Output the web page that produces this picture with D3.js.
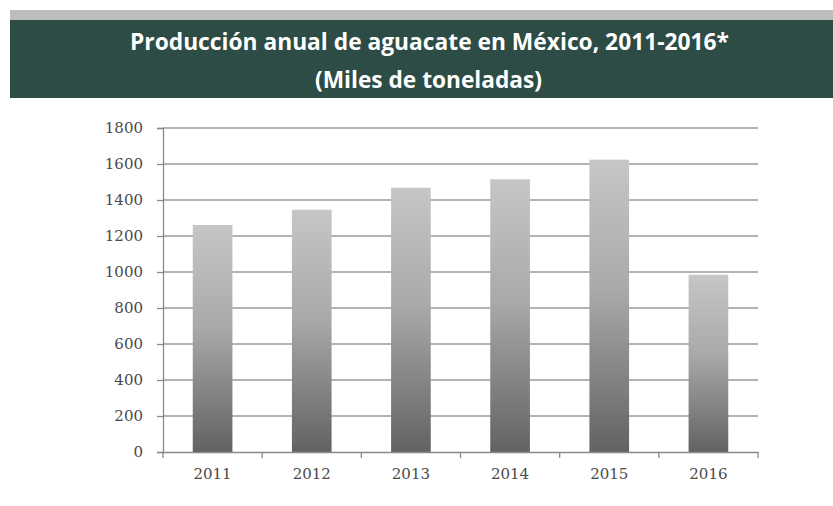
<!DOCTYPE html>
<html>
<head>
<meta charset="utf-8">
<script src="https://cdn.jsdelivr.net/npm/d3@7"></script>
<style>
  html, body { margin: 0; padding: 0; background: #ffffff; }
  svg { display: block; }
</style>
</head>
<body>
<script>
const titleLine1 = "Producción anual de aguacate en México, 2011-2016";
const titleMark = "*";
const titleLine2 = "(Miles de toneladas)";
const years = ["2011", "2012", "2013", "2014", "2015", "2016"];
const production = [1261, 1346, 1468, 1515, 1624, 985];
const yTicks = [0, 200, 400, 600, 800, 1000, 1200, 1400, 1600, 1800];

const W = 833, H = 506;
const svg = d3.select("body").append("svg").attr("width", W).attr("height", H);

const defs = svg.append("defs");
const grad = defs.append("linearGradient").attr("id", "barGrad")
  .attr("x1", 0).attr("y1", 0).attr("x2", 0).attr("y2", 1);
grad.append("stop").attr("offset", "0%").attr("stop-color", "#c6c6c6");
grad.append("stop").attr("offset", "45%").attr("stop-color", "#a9a9a9");
grad.append("stop").attr("offset", "100%").attr("stop-color", "#626262");
const blur = defs.append("filter").attr("id", "soft").attr("x", "-10%").attr("y", "-10%").attr("width", "120%").attr("height", "120%");
blur.append("feGaussianBlur").attr("stdDeviation", 0.7);

// Header
svg.append("rect").attr("x", 10).attr("y", 10).attr("width", W - 10).attr("height", 10).attr("fill", "#bdbdbd");
svg.append("rect").attr("x", 10).attr("y", 20).attr("width", W - 10).attr("height", 78).attr("fill", "#2d4c45");

svg.append("text").attr("x", 130).attr("y", 50)
  .attr("font-family", "Open Sans, sans-serif").attr("font-weight", "bold").attr("font-size", 23)
  .attr("fill", "#ffffff").attr("textLength", 599).attr("lengthAdjust", "spacingAndGlyphs")
  .text(titleLine1 + titleMark);

svg.append("text").attr("x", 315).attr("y", 88)
  .attr("font-family", "Open Sans, sans-serif").attr("font-weight", "bold").attr("font-size", 23)
  .attr("fill", "#ffffff").attr("textLength", 227).attr("lengthAdjust", "spacingAndGlyphs")
  .text(titleLine2);

// Chart
const x0 = 163, x1 = 758, yBottom = 452, yTop = 128;
const x = d3.scaleBand().domain(years).range([x0, x1]).paddingInner(0.6).paddingOuter(0.3);
const y = d3.scaleLinear().domain([0, 1800]).range([yBottom, yTop]);

const g = svg.append("g");

// gridlines
g.selectAll("line.grid").data(yTicks.filter(d => d > 0)).join("line")
  .attr("class", "grid")
  .attr("x1", x0).attr("x2", x1)
  .attr("y1", d => y(d)).attr("y2", d => y(d))
  .attr("stroke", "#9a9a9a").attr("stroke-width", 1.3);

// bars
g.selectAll("rect.bar").data(production).join("rect")
  .attr("class", "bar")
  .attr("x", (d, i) => x(years[i]))
  .attr("y", d => y(d))
  .attr("width", x.bandwidth())
  .attr("height", d => y(0) - y(d))
  .attr("fill", "url(#barGrad)")
  .attr("filter", "url(#soft)");

// Y axis
const yAxis = d3.axisLeft(y).tickValues(yTicks).tickSize(6).tickPadding(14).tickFormat(d3.format("d"));
const ya = svg.append("g").attr("transform", `translate(${x0},0)`).call(yAxis);
ya.select(".domain").attr("stroke", "#8a8a8a").attr("stroke-width", 1.3);
ya.selectAll(".tick line").attr("stroke", "#8a8a8a").attr("stroke-width", 1.3);
ya.selectAll(".tick text").attr("font-family", "DejaVu Serif, serif").attr("font-size", 15).attr("fill", "#4a4a4a");

// X axis
const xAxis = d3.axisBottom(x).tickSize(0).tickPadding(16);
const xa = svg.append("g").attr("transform", `translate(0,${yBottom})`).call(xAxis);
xa.select(".domain").attr("stroke", "#8a8a8a").attr("stroke-width", 1.3);
xa.selectAll(".tick text").attr("font-family", "DejaVu Serif, serif").attr("font-size", 15).attr("fill", "#4a4a4a");
const bounds = d3.range(years.length + 1).map(i => x0 + i * (x1 - x0) / years.length);
xa.selectAll("line.sep").data(bounds).join("line")
  .attr("class", "sep")
  .attr("x1", d => d).attr("x2", d => d)
  .attr("y1", 0).attr("y2", 6)
  .attr("stroke", "#8a8a8a").attr("stroke-width", 1.3);
</script>
</body>
</html>
